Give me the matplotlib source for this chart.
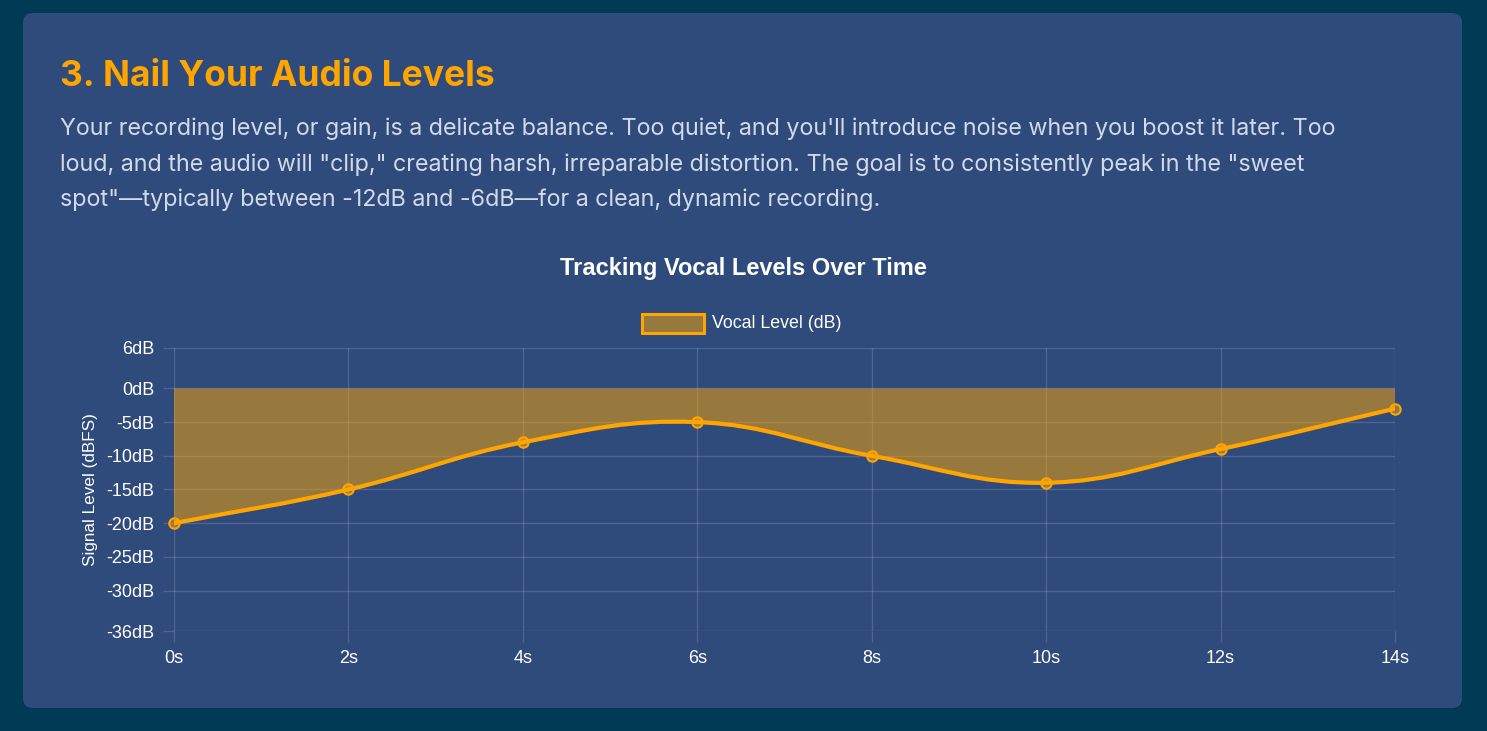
import numpy as np
import matplotlib.pyplot as plt
from matplotlib.path import Path
from matplotlib.patches import PathPatch, FancyBboxPatch, Rectangle

# data
times = [0, 2, 4, 6, 8, 10, 12, 14]
levels = [-20, -15, -8, -5, -10, -14, -9, -3]
x_labels = ['0s', '2s', '4s', '6s', '8s', '10s', '12s', '14s']
y_ticks = [6, 0, -5, -10, -15, -20, -25, -30, -36]

heading = "3. Nail Your Audio Levels"
body_lines = [
    "Your recording level, or gain, is a delicate balance. Too quiet, and you'll introduce noise when you boost it later. Too",
    "loud, and the audio will \"clip,\" creating harsh, irreparable distortion. The goal is to consistently peak in the \"sweet",
    "spot\"\u2014typically between -12dB and -6dB\u2014for a clean, dynamic recording.",
]

OUTER = '#003a55'
CARD = '#2f4b7c'
ORANGE = '#ffa500'
FILL = (1.0, 0.647, 0.0, 0.5)
TICKC = (1, 1, 1, 0.15)

W, H = 1487, 731
fig = plt.figure(figsize=(W / 100, H / 100), dpi=100, facecolor=OUTER)

card = FancyBboxPatch((0.23 + 0.1, 0.23 + 0.1), 14.39 - 0.2, 6.95 - 0.2,
                      boxstyle='round,pad=0.1', transform=fig.dpi_scale_trans,
                      facecolor=CARD, edgecolor='none', zorder=-5)
fig.patches.append(card)

fig.text(60 / W, 1 - 86 / H, heading, color=ORANGE, fontsize=25.5, fontweight='bold',
         family=['Inter', 'DejaVu Sans'], va='baseline', ha='left')
for i, line in enumerate(body_lines):
    fig.text(60 / W, 1 - (135 + 35.5 * i) / H, line, color='#d2dae8', fontsize=16.8,
             family=['Inter', 'DejaVu Sans'], va='baseline', ha='left')

CH = ['Liberation Sans', 'DejaVu Sans']
fig.text(743 / W, 1 - 269 / H, 'Tracking Vocal Levels Over Time', color='white',
         fontsize=17, fontweight='bold', family=CH, ha='center', va='center')

# legend
fig.patches.append(Rectangle((642 / W, 1 - 333 / H), 62 / W, 19 / H, transform=fig.transFigure,
                             facecolor=FILL, edgecolor=ORANGE, linewidth=2.2))
fig.text(712 / W, 1 - 323 / H, 'Vocal Level (dB)', color='white', fontsize=12.8,
         family=CH, ha='left', va='center')

left, right, top, bottom = 174, 1395, 348, 631
ax = fig.add_axes([left / W, 1 - bottom / H, (right - left) / W, (bottom - top) / H])
ax.set_facecolor('none')
ax.set_xlim(0, 14)
ax.set_ylim(-36, 6)

# chart.js-style bezier spline (tension 0.4) computed in pixel space
sx = (right - left) / 14.0
sy = (bottom - top) / 42.0
px = np.array(times, float) * sx
py = np.array(levels, float) * sy
t = 0.4
n = len(px)
cp_prev = []
cp_next = []
for i in range(n):
    p0 = (px[max(i - 1, 0)], py[max(i - 1, 0)])
    p1 = (px[i], py[i])
    p2 = (px[min(i + 1, n - 1)], py[min(i + 1, n - 1)])
    d01 = np.hypot(p1[0] - p0[0], p1[1] - p0[1])
    d12 = np.hypot(p2[0] - p1[0], p2[1] - p1[1])
    s01 = d01 / (d01 + d12) if d01 + d12 else 0
    s12 = d12 / (d01 + d12) if d01 + d12 else 0
    fa, fb = t * s01, t * s12
    cp_prev.append((p1[0] - fa * (p2[0] - p0[0]), p1[1] - fa * (p2[1] - p0[1])))
    cp_next.append((p1[0] + fb * (p2[0] - p0[0]), p1[1] + fb * (p2[1] - p0[1])))

verts = [(times[0], levels[0])]
codes = [Path.MOVETO]
for i in range(n - 1):
    verts += [(cp_next[i][0] / sx, cp_next[i][1] / sy),
              (cp_prev[i + 1][0] / sx, cp_prev[i + 1][1] / sy),
              (times[i + 1], levels[i + 1])]
    codes += [Path.CURVE4] * 3

fill_verts = verts + [(times[-1], 0), (times[0], 0), (times[0], levels[0])]
fill_codes = codes + [Path.LINETO, Path.LINETO, Path.CLOSEPOLY]
ax.add_patch(PathPatch(Path(fill_verts, fill_codes), facecolor=FILL, edgecolor='none', zorder=2))
ax.add_patch(PathPatch(Path(verts, codes), facecolor='none', edgecolor=ORANGE, linewidth=3,
                       capstyle='round', joinstyle='round', zorder=3))
ax.plot(times, levels, 'o', markersize=7.5, markerfacecolor=FILL, markeredgecolor=ORANGE,
        markeredgewidth=1.5, zorder=4, clip_on=False)

ax.set_xticks(times)
ax.set_xticklabels(x_labels)
ax.set_yticks(y_ticks)
ax.set_yticklabels([f'{v}dB' for v in y_ticks])
ax.grid(True, color='white', alpha=0.15, linewidth=1)
ax.set_axisbelow(True)
for s in ax.spines.values():
    s.set_visible(False)
ax.tick_params(axis='both', colors=TICKC, length=8, width=1, labelcolor='white', labelsize=13, pad=6)
for lab in ax.get_xticklabels() + ax.get_yticklabels():
    lab.set_family(CH)
ax.set_ylabel('Signal Level (dBFS)', color='white', fontsize=12.3, family=CH, labelpad=6)

fig.savefig('out.png', dpi=100, facecolor=OUTER)
